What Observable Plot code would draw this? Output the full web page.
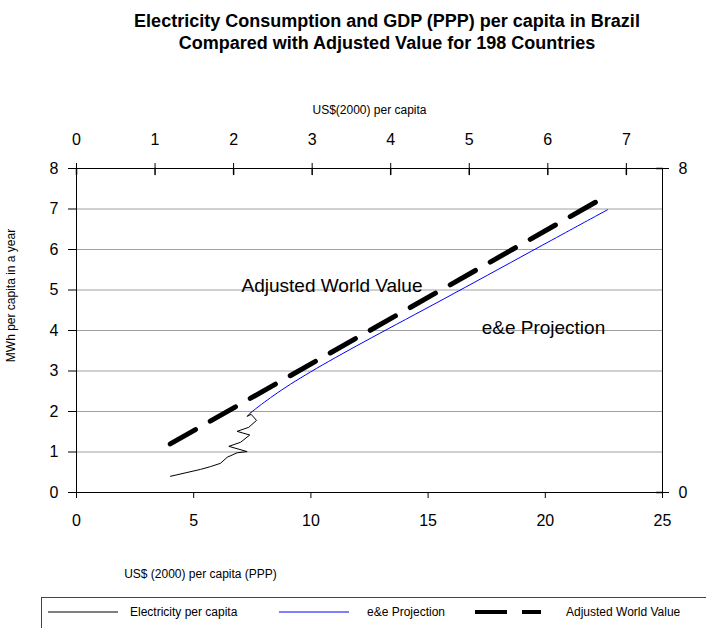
<!DOCTYPE html>
<html><head><meta charset="utf-8">
<script src="https://cdn.jsdelivr.net/npm/d3@7"></script>
<script src="https://cdn.jsdelivr.net/npm/@observablehq/plot@0.6"></script>
<style>
body{margin:0;background:#fff;font-family:"Liberation Sans",Arial,sans-serif;}
#wrap{position:relative;width:706px;height:628px;overflow:hidden;background:#fff}
#title{position:absolute;left:387px;top:10px;transform:translateX(-50%);white-space:nowrap;text-align:center;font-weight:bold;font-size:18px;line-height:22px;color:#000}
#chart{position:absolute;left:0;top:90px}
#legend{position:absolute;left:41px;top:597px}
</style></head><body>
<div id="wrap">
<div id="title">Electricity Consumption and GDP (PPP) per capita in Brazil<br>Compared with Adjusted Value for 198 Countries</div>
<div id="chart"></div>
<div id="legend"></div>
</div>
<script>
// Historical electricity per capita (GDP PPP thousand US$, MWh)
const elecGdp = [4.01, 5.29, 5.72, 6.14, 6.43, 6.85, 7.28, 6.50, 7.00, 7.39, 6.85, 7.35, 7.68, 7.45, 7.28, 7.45];
const elecMwh = [0.40, 0.57, 0.64, 0.72, 0.87, 0.98, 1.01, 1.14, 1.24, 1.42, 1.51, 1.61, 1.78, 1.93, 1.88, 1.98];
// e&e projection
const projGdp = [7.45, 8.5, 10.1, 12.5, 15.5, 19.6, 22.65];
const projMwh = [1.98, 2.45, 3.03, 3.80, 4.72, 6.02, 6.98];
// Adjusted world value
const adjGdp = [4.0, 22.15];
const adjMwh = [1.20, 7.17];
// Axes
const xTicks = [0, 5, 10, 15, 20, 25];
const yTicks = [0, 1, 2, 3, 4, 5, 6, 7, 8];
const yRightTicks = [0, 8];
const gridY = [1, 2, 3, 4, 5, 6, 7];
const topTicks = [0, 1, 2, 3, 4, 5, 6, 7];
const topMax = 7.46;
const xMax = 25;
// Annotations
const noteText = ["Adjusted World Value", "e&e Projection"];
const noteX = [10.9, 19.92];
const noteY = [5.11, 4.07];

const toRows = (xs, ys) => xs.map((x, i) => ({x, y: ys[i]}));
const elec = toRows(elecGdp, elecMwh);
const proj = toRows(projGdp, projMwh);
const adj = toRows(adjGdp, adjMwh);
const notes = noteText.map((t, i) => ({t, x: noteX[i], y: noteY[i]}));
const topPos = topTicks.map(v => v * xMax / topMax);
const lineShape = {draw(ctx, l) { ctx.moveTo(0, 0); ctx.lineTo(0, -l); }};
const font = "Liberation Sans, Arial, sans-serif";

const chart = Plot.plot({
  width: 706, height: 500,
  marginLeft: 76, marginRight: 44, marginTop: 78, marginBottom: 98,
  style: {fontFamily: font, background: "white", color: "black"},
  x: {domain: [0, 25]},
  y: {domain: [0, 8]},
  marks: [
    Plot.ruleY(gridY, {stroke: "#a0a0a0", strokeWidth: 1}),
    Plot.frame({stroke: "black", strokeWidth: 1}),
    Plot.axisY(yTicks, {anchor: "left", tickSize: 8, tickPadding: 10, fontSize: 16, label: null}),
    Plot.axisY(yRightTicks, {anchor: "right", tickSize: 6, tickPadding: 10, fontSize: 16, label: null}),
    Plot.vector(yRightTicks, {y: d => d, frameAnchor: "right", rotate: -90, length: 6, anchor: "start", shape: lineShape, stroke: "black"}),
    Plot.axisX(xTicks, {anchor: "bottom", tickSize: 6, tickPadding: 16, fontSize: 16, label: null}),
    Plot.axisX(topPos, {anchor: "top", tickSize: 6, tickPadding: 18, fontSize: 16, label: null, tickFormat: (d, i) => String(topTicks[i])}),
    Plot.vector(topPos, {x: d => d, frameAnchor: "top", rotate: 180, length: 6, anchor: "start", shape: lineShape, stroke: "black"}),
    Plot.line(elec, {x: "x", y: "y", stroke: "black", strokeWidth: 1}),
    Plot.line(proj, {x: "x", y: "y", stroke: "#0000ff", strokeWidth: 1, curve: "basis"}),
    Plot.line(adj, {x: "x", y: "y", stroke: "black", strokeWidth: 5, strokeDasharray: "29,17"}),
    Plot.text(notes, {x: "x", y: "y", text: "t", fontSize: 19, fill: "black"}),
    Plot.text(["US$(2000) per capita"], {frameAnchor: "top", dy: -63, fontSize: 12, fill: "black"}),
    Plot.text(["US$ (2000) per capita (PPP)"], {frameAnchor: "bottom-left", dx: 124, dy: 85, fontSize: 12, textAnchor: "middle", fill: "black"}),
    Plot.text(["MWh per capita in a year"], {frameAnchor: "left", dx: -65, dy: -35, rotate: -90, textAnchor: "middle", fontSize: 12, fill: "black"})
  ]
});
document.getElementById("chart").appendChild(chart);

// Legend
const legendItems = [
  {label: "Electricity per capita", stroke: "black", width: 1, dash: null, x1: 7, x2: 77, tx: 89},
  {label: "e&e Projection", stroke: "#0000ff", width: 1, dash: null, x1: 238, x2: 308, tx: 326},
  {label: "Adjusted World Value", stroke: "black", width: 4, dash: "32,15", x1: 434, x2: 500, tx: 525}
];
const lsvg = d3.create("svg").attr("width", 665).attr("height", 31);
lsvg.append("rect").attr("x", 0.5).attr("y", 0.5).attr("width", 700).attr("height", 60).attr("fill", "white").attr("stroke", "#444");
for (const it of legendItems) {
  lsvg.append("line").attr("x1", it.x1).attr("x2", it.x2).attr("y1", 15).attr("y2", 15)
    .attr("stroke", it.stroke).attr("stroke-width", it.width).attr("stroke-dasharray", it.dash);
  lsvg.append("text").attr("x", it.tx).attr("y", 15).attr("dy", "0.35em").attr("font-size", 12)
    .attr("font-family", font).text(it.label);
}
document.getElementById("legend").appendChild(lsvg.node());
</script>
</body></html>
